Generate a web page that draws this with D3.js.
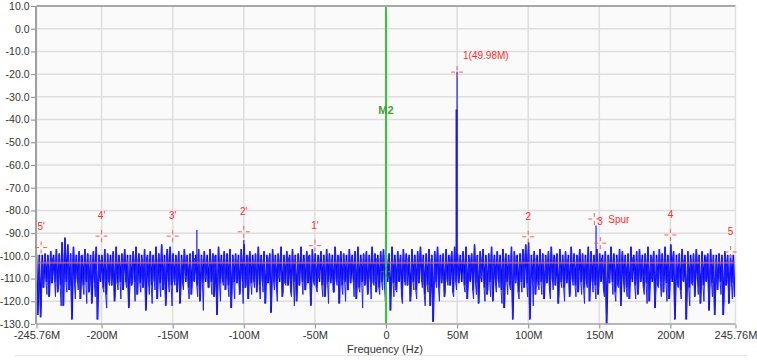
<!DOCTYPE html>
<html><head><meta charset="utf-8">
<script src="https://cdn.jsdelivr.net/npm/d3@7"></script>
<style>body{margin:0;background:#fff}svg{display:block}text{font-family:"Liberation Sans",Arial,sans-serif}</style>
</head><body>
<svg id="c" width="757" height="360"></svg>
<script>
// ---- data ----
const yTickValues = [10,0,-10,-20,-30,-40,-50,-60,-70,-80,-90,-100,-110,-120,-130];
const xTickValues = [-245.76,-200,-150,-100,-50,0,50,100,150,200,245.76];
const xTickLabels = ["-245.76M","-200M","-150M","-100M","-50M","0","50M","100M","150M","200M","245.76M"];
const binStartMHz = -245.76, binStepMHz = 2;
// per 2 MHz bin: peak sample, lowest sample, extra sample (dBFS)
const noiseHi = [
-101,-100,-102,-99,-100,-98,-101,-97,-99,-94,
-92,-95,-99,-96,-100,-98,-101,-97,-99,-100,
-98,-96,-100,-101,-97,-99,-102,-98,-96,-100,
-99,-97,-101,-100,-98,-96,-99,-101,-97,-100,
-98,-100,-96,-99,-95,-101,-97,-96,-99,-100,
-98,-101,-97,-100,-99,-98,-102,-97,-100,-98,
-101,-97,-99,-100,-96,-101,-98,-99,-97,-100,
-99,-101,-97,-95,-100,-98,-102,-99,-96,-100,
-98,-101,-99,-97,-100,-99,-96,-101,-98,-100,
-97,-100,-99,-96,-101,-98,-100,-97,-99,-101,
-98,-100,-97,-99,-101,-96,-100,-98,-99,-102,
-97,-100,-98,-96,-101,-99,-98,-100,-96,-99,
-101,-98,-97,-100,-99,-96,-101,-98,-100,-97,
-99,-101,-97,-100,-98,-96,-101,-99,-97,-100,
-98,-96,-100,-99,-97,-101,-98,-96,-99,-100,
-98,-96,-101,-99,-95,-100,-98,-97,-101,-99,
-96,-100,-98,-101,-97,-99,-100,-96,-98,-101,
-99,-97,-95,-94,-100,-98,-101,-97,-99,-100,
-98,-96,-101,-99,-97,-100,-98,-101,-96,-99,
-100,-97,-99,-101,-96,-98,-100,-97,-99,-101,
-98,-100,-96,-99,-101,-97,-98,-100,-99,-96,
-100,-98,-97,-101,-99,-96,-100,-98,-101,-97,
-99,-96,-100,-95,-98,-101,-99,-97,-100,-98,
-101,-99,-97,-100,-98,-102,-99,-97,-100,-101,
-99,-101,-98,-100,-101,-102];
const noiseLo = [
-126,-127,-114,-111,-118,-112,-110,-116,-113,-122,
-111,-115,-128,-112,-110,-119,-113,-111,-116,-121,
-112,-128,-110,-114,-117,-111,-113,-120,-112,-110,
-115,-111,-123,-113,-110,-117,-112,-114,-124,-111,
-113,-110,-119,-112,-115,-122,-111,-113,-110,-116,
-121,-112,-110,-114,-117,-111,-113,-120,-112,-110,
-114,-111,-118,-126,-112,-110,-115,-113,-123,-111,
-112,-117,-110,-114,-119,-112,-111,-116,-113,-110,
-121,-112,-125,-111,-114,-110,-118,-112,-113,-116,
-111,-120,-113,-110,-115,-112,-122,-111,-114,-110,
-113,-118,-111,-112,-116,-110,-121,-113,-111,-115,
-112,-110,-119,-114,-111,-113,-117,-110,-112,-116,
-114,-111,-113,-110,-124,-112,-115,-111,-118,-110,
-113,-120,-111,-115,-112,-110,-117,-113,-122,-129,
-111,-114,-112,-118,-110,-113,-116,-111,-112,-106,
-113,-119,-111,-115,-112,-121,-110,-114,-117,-111,
-120,-112,-110,-115,-123,-111,-113,-128,-112,-116,
-111,-114,-112,-128,-110,-117,-113,-111,-119,-112,
-115,-110,-113,-121,-111,-114,-112,-118,-110,-113,
-116,-111,-114,-112,-120,-110,-113,-117,-111,-115,
-130,-112,-110,-116,-113,-122,-111,-114,-119,-110,
-113,-117,-111,-114,-112,-120,-110,-123,-113,-111,
-116,-112,-119,-110,-128,-113,-115,-111,-128,-114,
-112,-118,-110,-121,-113,-111,-124,-112,-126,-115,
-111,-126,-113,-121,-112,-118];
const noiseAlt = [
-115,-120,-103,-117,-112,-101,-118,-114,-122,-102,
-116,-113,-104,-119,-115,-100,-117,-121,-113,-103,
-118,-114,-102,-116,-123,-113,-101,-117,-115,-119,
-103,-114,-118,-112,-120,-102,-116,-113,-101,-117,
-121,-115,-103,-118,-114,-100,-116,-122,-113,-104,
-117,-115,-102,-119,-113,-101,-118,-116,-124,-103,
-114,-117,-100,-115,-120,-113,-102,-118,-116,-119,
-103,-115,-121,-113,-101,-117,-114,-104,-119,-116,
-112,-102,-118,-115,-120,-103,-116,-113,-101,-118,
-122,-114,-103,-117,-115,-100,-119,-113,-116,-102,
-118,-114,-121,-103,-116,-113,-101,-117,-120,-115,
-102,-118,-114,-116,-123,-103,-115,-119,-113,-101,
-117,-115,-120,-102,-114,-118,-116,-103,-121,-113,
-101,-117,-115,-119,-104,-114,-122,-116,-102,-118,
-114,-120,-103,-116,-113,-101,-118,-115,-104,-103,
-116,-114,-102,-119,-117,-113,-101,-120,-115,-118,
-103,-116,-114,-121,-102,-117,-115,-113,-100,-119,
-116,-103,-118,-114,-122,-101,-115,-117,-113,-104,
-119,-115,-101,-117,-114,-120,-103,-116,-113,-118,
-102,-117,-121,-114,-103,-116,-119,-113,-101,-118,
-115,-103,-117,-120,-114,-102,-116,-118,-113,-101,
-119,-115,-104,-117,-121,-113,-102,-116,-114,-118,
-103,-120,-115,-101,-117,-114,-119,-102,-116,-122,
-113,-103,-117,-115,-120,-101,-114,-118,-116,-104,
-117,-121,-103,-115,-119,-114];
const spikeFreqs = [-133, -100, 49.6, 49.98, 147.7];
const spikeDb    = [-88.6, -93, -35.6, -19, -86.6];
const refLevelDb = -103;
const markerLabels = ["1(49.98M)","2","3","4","5","5'","4'","3'","2'","1'",""];
const markerFreqs  = [49.98, 100, 146.5, 200, 242.3, -242.5, -200, -150, -100, -50, 150.7];
const markerDb     = [-19.1, -91.6, -83.8, -90.8, -98.3, -96.3, -91.3, -91.3, -89.4, -95.5, -94.4];
const spurLabel = "Spur";
const m2Label = "M2", m2Freq = 0, m2LabelDb = -36;

// ---- chart ----
const svg = d3.select("#c");
const x = d3.scaleLinear().domain([-245.76, 245.76]).range([36.5, 735.5]);
const y = d3.scaleLinear().domain([-130, 10]).range([324, 6]);

svg.append("line").attr("x1",15).attr("x2",747).attr("y1",355.5).attr("y2",355.5).attr("stroke","#e6e6e6");
svg.append("rect").attr("x",x.range()[0]).attr("y",y(10)).attr("width",x.range()[1]-x.range()[0]).attr("height",y(-130)-y(10)).attr("fill","#fafafa");

const grid = svg.append("g");
grid.selectAll("line.h").data(yTickValues).join("line").attr("class","h")
  .attr("x1",x.range()[0]).attr("x2",x.range()[1]).attr("y1",d=>y(d)).attr("y2",d=>y(d))
  .attr("stroke","#dedede").attr("stroke-width",1.5);
grid.selectAll("line.v").data(xTickValues).join("line").attr("class","v")
  .attr("x1",d=>x(d)).attr("x2",d=>x(d)).attr("y1",y(10)).attr("y2",y(-130))
  .attr("stroke","#dedede").attr("stroke-width",1.5);

svg.append("clipPath").attr("id","clip").append("rect")
  .attr("x",x.range()[0]).attr("y",y(10)).attr("width",x.range()[1]-x.range()[0]).attr("height",y(-130)-y(10));
const plot = svg.append("g").attr("clip-path","url(#clip)");

// noise trace
const pts = [];
noiseHi.forEach((h,i)=>{
  const f = binStartMHz + i*binStepMHz;
  pts.push([f, h]);
  pts.push([f + binStepMHz/3, noiseLo[i]]);
  pts.push([f + 2*binStepMHz/3, noiseAlt[i]]);
});
const line = d3.line().x(d=>x(d[0])).y(d=>y(d[1]));
// dense core
const core = [];
noiseHi.forEach((h,i)=>{
  const f = binStartMHz + i*binStepMHz;
  core.push([f, Math.max(h,-99.5)]); core.push([f + binStepMHz/2, Math.min(noiseLo[i],-111.5)]);
});
plot.append("path").attr("d", line(core)).attr("fill","none").attr("stroke","#0000f0").attr("stroke-width",1.5);
plot.append("path").attr("d", line(pts)).attr("fill","none").attr("stroke","#2020ff").attr("stroke-width",1);

// spikes
plot.selectAll("line.sp").data(spikeFreqs).join("line").attr("class","sp")
  .attr("x1",d=>x(d)).attr("x2",d=>x(d)).attr("y1",y(-104)).attr("y2",(d,i)=>y(spikeDb[i]))
  .attr("stroke","#1a1aff").attr("stroke-width",(d,i)=>i===2?2:1.2);

// reference line
plot.append("line").attr("x1",x.range()[0]).attr("x2",x.range()[1]).attr("y1",y(refLevelDb)).attr("y2",y(refLevelDb))
  .attr("stroke","#d0607a").attr("stroke-opacity",0.75).attr("stroke-width",2);

// M2 marker line
plot.append("line").attr("x1",x(m2Freq)).attr("x2",x(m2Freq)).attr("y1",y(10)).attr("y2",y(-130))
  .attr("stroke","#2ecc2e").attr("stroke-width",2);
const g2 = plot.append("g").attr("transform",`translate(${x(m2Freq)},${y(-107)})`).attr("stroke","#3a8a3a").attr("stroke-width",1);
[[-5,-2],[2,5]].forEach(s=>{g2.append("line").attr("x1",s[0]).attr("x2",s[1]).attr("y1",0).attr("y2",0);
  g2.append("line").attr("y1",s[0]).attr("y2",s[1]).attr("x1",0).attr("x2",0);});
svg.append("text").attr("x",x(m2Freq)).attr("y",y(m2LabelDb)+4).attr("text-anchor","middle")
  .attr("font-size",11).attr("font-weight","bold").attr("fill","#3da33d").text(m2Label);

// axes frame
svg.append("line").attr("x1",x.range()[0]).attr("x2",x.range()[1]).attr("y1",y(10)).attr("y2",y(10)).attr("stroke","#a8a8a8").attr("stroke-width",2);
svg.append("line").attr("x1",x.range()[1]).attr("x2",x.range()[1]).attr("y1",y(10)).attr("y2",y(-130)).attr("stroke","#e0e0e0").attr("stroke-width",1);
svg.append("line").attr("x1",x.range()[0]).attr("x2",x.range()[1]).attr("y1",y(-130)).attr("y2",y(-130)).attr("stroke","#a8a8a8").attr("stroke-width",1.5);
svg.append("line").attr("x1",x.range()[0]-0.5).attr("x2",x.range()[0]-0.5).attr("y1",y(10)).attr("y2",y(-130)).attr("stroke","#a0a0a0").attr("stroke-width",2);

const yAxis = d3.axisLeft(y).tickValues(yTickValues).tickFormat(d=>d.toFixed(1)).tickSize(4).tickPadding(1.5);
const ya = svg.append("g").attr("transform",`translate(${x.range()[0]-1.5},0)`).call(yAxis);
const xAxis = d3.axisBottom(x).tickValues(xTickValues).tickFormat((d,i)=>xTickLabels[i]).tickSize(4).tickPadding(3);
const xa = svg.append("g").attr("transform",`translate(0,${y(-130)+0.5})`).call(xAxis);
[ya,xa].forEach(a=>{a.select(".domain").remove();
  a.selectAll(".tick line").attr("stroke","#888");
  a.selectAll(".tick text").attr("fill","#333").attr("font-family","'Liberation Sans',Arial,sans-serif");});
ya.selectAll(".tick text").attr("font-size",10.5);
xa.selectAll(".tick text").attr("font-size",11);

svg.append("text").attr("x",385).attr("y",353).attr("text-anchor","middle").attr("font-size",11).attr("fill","#333").text("Frequency (Hz)");

// markers
const mk = svg.append("g");
markerFreqs.forEach((f,i)=>{
  const cx = x(f), cy = y(markerDb[i]);
  const g = mk.append("g").attr("transform",`translate(${cx},${cy})`).attr("stroke","#f06060").attr("stroke-width",1);
  [[-6,-2],[2,6]].forEach(s=>{
    g.append("line").attr("x1",s[0]).attr("x2",s[1]).attr("y1",0).attr("y2",0);
    g.append("line").attr("y1",s[0]).attr("y2",s[1]).attr("x1",0).attr("x2",0);
  });
  const lab = markerLabels[i];
  if(!lab) return;
  let dx = 0, dy = -17, anchor = "middle";
  if(i===0){dx = 6; dy = -13; anchor = "start";}
  if(i===2){dx = 3; dy = 6; anchor = "start";}
  mk.append("text").attr("x",cx+dx).attr("y",cy+dy).attr("text-anchor",anchor)
    .attr("font-size",10).attr("fill","#ff2a2a").text(lab);
  if(i===2){
    mk.append("text").attr("x",cx+14).attr("y",cy+4).attr("font-size",10).attr("fill","#ff2a2a").text(spurLabel);
  }
});
</script>
</body></html>
